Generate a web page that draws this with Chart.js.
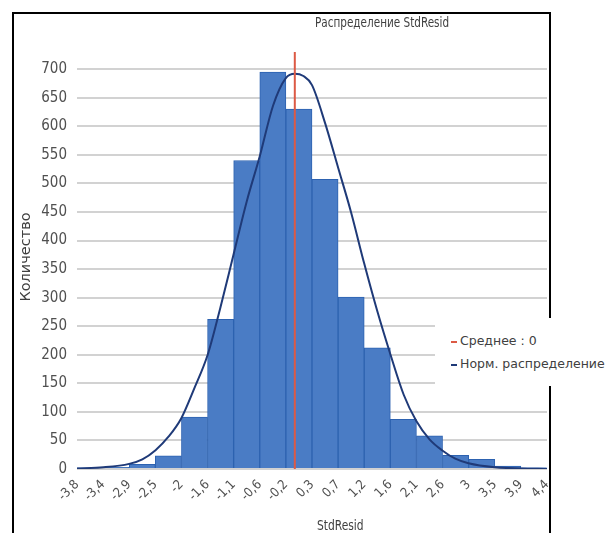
<!DOCTYPE html>
<html>
<head>
<meta charset="utf-8">
<script src="https://cdn.jsdelivr.net/npm/chart.js@4"></script>
<style>
  body { margin: 0; background: #fff; }
  #wrap { position: relative; width: 608px; height: 533px; overflow: hidden; }
  #myHist { position: absolute; left: 0; top: 0; }
  .frame { position: absolute; left: 12px; top: 12px; width: 535px; height: 560px;
           border: 2px solid #000; border-bottom: none; pointer-events: none; }
  .txt { position: absolute; color: #404040; white-space: nowrap;
         font-family: "Liberation Sans Narrow", "DejaVu Sans Condensed", sans-serif; }
  #legend { position: absolute; left: 435px; top: 318px; width: 173px; height: 68px; background: #fff;
            font-family: "DejaVu Sans", sans-serif; font-size: 12.5px; color: #404040; white-space: nowrap; }
  #legend div { position: absolute; left: 16px; }
  #legend span { display: inline-block; width: 6px; height: 2px; margin-right: 3px; vertical-align: middle; }
</style>
</head>
<body>
<div id="wrap">
  <canvas id="myHist" width="608" height="533"></canvas>
  <div class="frame"></div>
  <div class="txt" style="left:315px; top:14px; font-size:14px; transform:scaleX(0.83); transform-origin:left top;">Распределение StdResid</div>
  <div class="txt" style="left:317px; top:517px; font-size:14px; transform:scaleX(0.85); transform-origin:left top;">StdResid</div>
  <div class="txt" style="left:25px; top:257px; font-size:14.5px; font-family:'DejaVu Sans',sans-serif; transform:translate(-50%,-50%) rotate(-90deg);">Количество</div>
  <div id="legend"></div>
</div>
<script>
  // гистограмма
  const binLabels = ['-3,8', '-3,4', '-2,9', '-2,5', '-2', '-1,6', '-1,1', '-0,6', '-0,2',
                     '0,3', '0,7', '1,2', '1,6', '2,1', '2,6', '3', '3,5', '3,9', '4,4'];
  const counts = [2, 3, 8, 23, 91, 262, 540, 695, 630, 507, 301, 212, 87, 58, 24, 17, 5, 2];
  const yTicks = [0, 50, 100, 150, 200, 250, 300, 350, 400, 450, 500, 550, 600, 650, 700];

  // нормальная кривая
  const curveX = [-3.8, -3.34, -2.89, -2.66, -2.43, -2.2, -1.98, -1.75, -1.52, -1.3, -1.07, -0.84, -0.61,
                  -0.38, -0.16, 0, 0.15, 0.3, 0.53, 0.76, 0.98, 1.21, 1.44, 1.67, 1.9, 2.12, 2.35, 2.58,
                  2.8, 3.03, 3.49, 3.94, 4.4];
  const curveY = [1, 3, 9, 17, 33, 57, 89, 142, 200, 282, 375, 468, 548, 636, 684, 692, 688, 672, 605,
                  526, 450, 360, 276, 200, 130, 84, 52, 32, 18, 10, 3, 1, 0];

  const meanValue = 0;
  const xMin = -3.8, xMax = 4.4;
  const yMax = 730;

  const legendItems = ['Среднее : 0', 'Норм. распределение'];
  const meanColor = '#dc5a45';
  const curveColor = '#1f3a78';

  const narrow = '"Liberation Sans Narrow", "DejaVu Sans Condensed", sans-serif';

  const data_hist = {
    labels: counts.map((c, i) => binLabels[i]),
    datasets: [{
      type: 'line',
      label: legendItems[0],
      xAxisID: 'xv',
      data: [{ x: meanValue, y: 0 }, { x: meanValue, y: yMax }],
      borderColor: meanColor,
      borderWidth: 2,
      pointRadius: 0,
      order: 1
    }, {
      type: 'line',
      label: legendItems[1],
      xAxisID: 'xv',
      data: curveX.map((x, i) => ({ x: x, y: curveY[i] })),
      borderColor: curveColor,
      borderWidth: 2,
      pointRadius: 0,
      cubicInterpolationMode: 'monotone',
      order: 2
    }, {
      type: 'bar',
      label: 'Количество',
      xAxisID: 'x',
      data: counts,
      backgroundColor: '#4a7cc5',
      borderColor: '#2d62b0',
      borderWidth: 1,
      grouped: false,
      categoryPercentage: 1,
      barPercentage: 1,
      order: 3
    }]
  };

  const options_hist = {
    responsive: false,
    maintainAspectRatio: false,
    animation: false,
    layout: { padding: { left: 0, right: 61, top: 52, bottom: 0 } },
    plugins: { legend: { display: false }, tooltip: { enabled: false }, title: { display: false } },
    scales: {
      x: { type: 'category', display: false, offset: true },
      xv: { type: 'linear', display: false, min: xMin, max: xMax, offset: false },
      xt: {
        type: 'category',
        position: 'bottom',
        labels: binLabels,
        offset: false,
        grid: { display: false },
        border: { display: false },
        ticks: { autoSkip: false, maxRotation: 45, minRotation: 45, color: '#505050',
                 font: { family: narrow, size: 13 }, padding: 0 },
        afterFit: (scale) => { scale.height = 64; }
      },
      y: {
        min: 0,
        max: yMax,
        grid: { color: '#d2d2d2', lineWidth: 2, drawTicks: false },
        border: { display: false },
        ticks: { color: '#505050', padding: 10, font: { family: narrow, size: 15 } },
        afterBuildTicks: (scale) => { scale.ticks = yTicks.map(v => ({ value: v })); },
        afterFit: (scale) => { scale.width = 77; }
      }
    }
  };

  const ctx_hist = document.getElementById('myHist').getContext('2d');
  const myChart_hist = new Chart(ctx_hist, { type: 'bar', data: data_hist, options: options_hist });

  // легенда
  const legendBox = document.getElementById('legend');
  [myChart_hist.data.datasets[0], myChart_hist.data.datasets[1]].forEach((ds, i) => {
    const row = document.createElement('div');
    row.style.top = (15 + i * 23) + 'px';
    row.innerHTML = '<span style="background:' + ds.borderColor + '"></span>' + ds.label;
    legendBox.appendChild(row);
  });
</script>
</body>
</html>
